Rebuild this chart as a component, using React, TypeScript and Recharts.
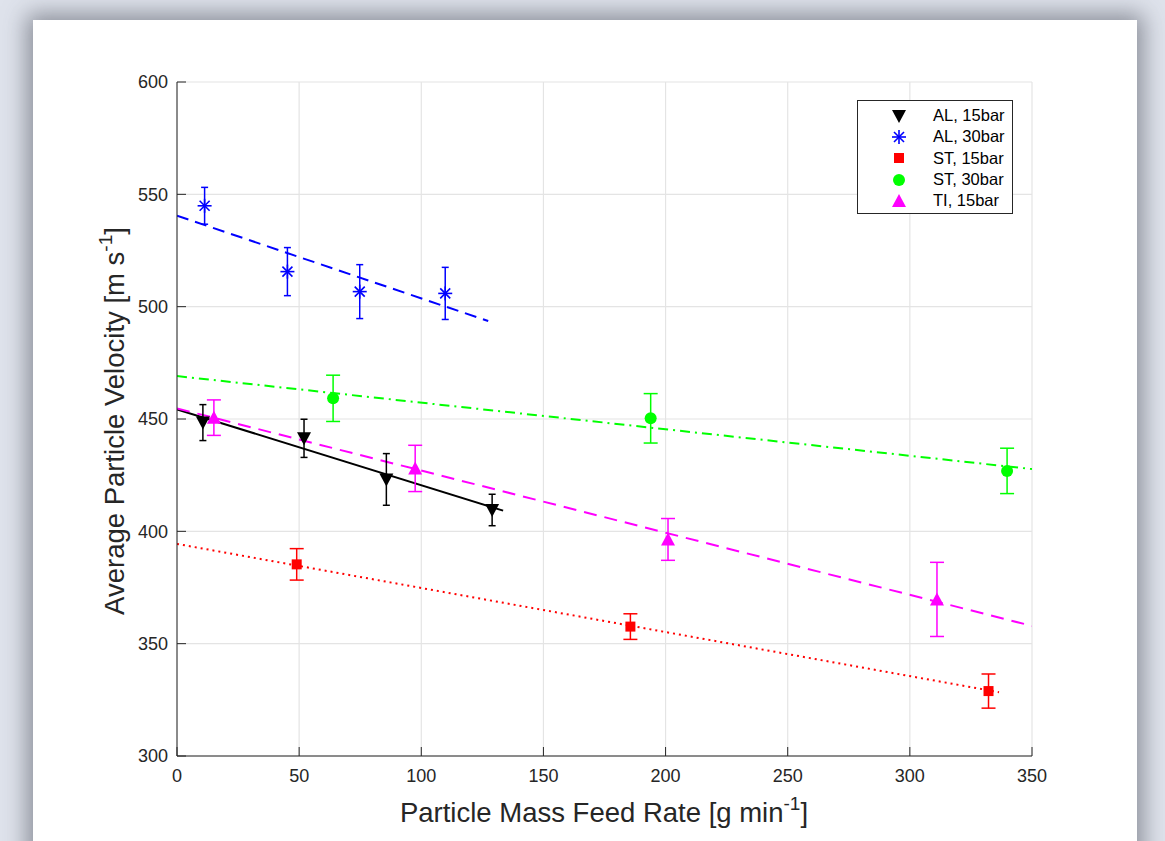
import React from 'react'
import {
  ComposedChart,
  Scatter,
  Line,
  XAxis,
  YAxis,
  CartesianGrid,
  ErrorBar,
  Legend,
} from 'recharts'

// measured points: feed rate [g/min], velocity [m/s], error half-width
const al15 = [
  { x: 10.6, y: 448.4, err: 8 },
  { x: 52, y: 441.4, err: 8.5 },
  { x: 85.7, y: 423.1, err: 11.5 },
  { x: 129, y: 409.5, err: 7 },
]
const al30 = [
  { x: 11.3, y: 544.9, err: 8.2 },
  { x: 45.2, y: 515.6, err: 10.7 },
  { x: 74.8, y: 506.7, err: 12 },
  { x: 109.8, y: 505.9, err: 11.6 },
]
const st15 = [
  { x: 49, y: 385.3, err: 7 },
  { x: 185.6, y: 357.6, err: 5.7 },
  { x: 332.2, y: 328.9, err: 7.6 },
]
const st30 = [
  { x: 63.9, y: 459.2, err: 10.3 },
  { x: 193.9, y: 450.3, err: 11 },
  { x: 339.8, y: 426.9, err: 10.1 },
]
const ti15 = [
  { x: 15.1, y: 450.6, err: 7.9 },
  { x: 97.5, y: 428, err: 10.3 },
  { x: 201, y: 396.4, err: 9.3 },
  { x: 311.1, y: 369.7, err: 16.5 },
]

// linear fits (end points)
const fitAl15 = [{ x: 0, y: 454.3 }, { x: 133.5, y: 409.2 }]
const fitAl30 = [{ x: 0, y: 540.5 }, { x: 127.4, y: 493.6 }]
const fitSt15 = [{ x: 0, y: 394.4 }, { x: 336.5, y: 328.4 }]
const fitSt30 = [{ x: 0, y: 469.1 }, { x: 350, y: 427.7 }]
const fitTi15 = [{ x: 0, y: 454.7 }, { x: 350, y: 357.9 }]

const xTicks = [0, 50, 100, 150, 200, 250, 300, 350]
const yTicks = [300, 350, 400, 450, 500, 550, 600]

const legendNames = ['AL, 15bar', 'AL, 30bar', 'ST, 15bar', 'ST, 30bar', 'TI, 15bar']

const AXIS = '#262626'
const FONT = '"Liberation Sans", Arial, Helvetica, sans-serif'

type MarkProps = { cx?: number; cy?: number }

const TriDown = ({ cx = 0, cy = 0 }: MarkProps) => (
  <polygon points={`${cx - 7},${cy - 6} ${cx + 7},${cy - 6} ${cx},${cy + 7}`} fill="#000" />
)
const TriUp = ({ cx = 0, cy = 0 }: MarkProps) => (
  <polygon points={`${cx - 7},${cy + 6} ${cx + 7},${cy + 6} ${cx},${cy - 7}`} fill="#ff00ff" />
)
const Square = ({ cx = 0, cy = 0 }: MarkProps) => (
  <rect x={cx - 5} y={cy - 5} width={10} height={10} fill="#ff0000" />
)
const Dot = ({ cx = 0, cy = 0 }: MarkProps) => <circle cx={cx} cy={cy} r={6} fill="#00ff00" />
const Star = ({ cx = 0, cy = 0 }: MarkProps) => (
  <g stroke="#0000ff" strokeWidth={1.6}>
    <line x1={cx - 7} y1={cy} x2={cx + 7} y2={cy} />
    <line x1={cx} y1={cy - 7} x2={cx} y2={cy + 7} />
    <line x1={cx - 5} y1={cy - 5} x2={cx + 5} y2={cy + 5} />
    <line x1={cx - 5} y1={cy + 5} x2={cx + 5} y2={cy - 5} />
  </g>
)

const legendMarks = [TriDown, Star, Square, Dot, TriUp]

function LegendBox() {
  return (
    <div
      style={{
        width: 156,
        height: 114,
        border: '1px solid #262626',
        background: '#fff',
        boxSizing: 'border-box',
        paddingTop: 4,
      }}
    >
      {legendNames.map((name, i) => {
        const Mark = legendMarks[i]
        return (
          <div key={name} style={{ display: 'flex', alignItems: 'center', height: 21.3 }}>
            <svg width={70} height={20}>
              <Mark cx={41} cy={10} />
            </svg>
            <span style={{ fontFamily: FONT, fontSize: 16.5, color: '#000', marginLeft: 5 }}>{name}</span>
          </div>
        )
      })}
    </div>
  )
}

const YLabel = () => (
  <text
    x={124}
    y={421}
    transform="rotate(-90 124 421)"
    textAnchor="middle"
    fontFamily={FONT}
    fontSize={27.5}
    fill={AXIS}
  >
    Average Particle Velocity [m s
    <tspan fontSize={19} dy={-12}>-1</tspan>
    <tspan dy={12}>]</tspan>
  </text>
)

const XLabel = () => (
  <text x={604} y={822} textAnchor="middle" fontFamily={FONT} fontSize={27.5} fill={AXIS}>
    Particle Mass Feed Rate [g min
    <tspan fontSize={19} dy={-12}>-1</tspan>
    <tspan dy={12}>]</tspan>
  </text>
)

const emptyTick = () => <g />

export default function App() {
  const tickStyle = { fill: AXIS, fontSize: 18, fontFamily: FONT }
  return (
    <div
      style={{
        position: 'absolute',
        left: 0,
        top: 0,
        width: 1165,
        height: 841,
        background: '#dfe3ec',
        overflow: 'hidden',
      }}
    >
      <div
        style={{
          position: 'absolute',
          left: 33,
          top: 20,
          width: 1104,
          height: 860,
          background: '#fff',
          boxShadow: '0 0 22px 6px rgba(70,72,84,0.55)',
        }}
      />
      <div style={{ position: 'absolute', left: 0, top: 0 }}>
        <ComposedChart width={1165} height={841} margin={{ top: 82, right: 133, bottom: 35, left: 117 }}>
          <CartesianGrid stroke="#e4e4e4" strokeWidth={1.2} />
          <XAxis
            type="number"
            dataKey="x"
            domain={[0, 350]}
            ticks={xTicks}
            height={50}
            tickSize={-9}
            tickMargin={22}
            tick={tickStyle}
            stroke={AXIS}
            allowDataOverflow
            label={{ content: XLabel }}
          />
          <XAxis
            xAxisId="top"
            orientation="top"
            type="number"
            domain={[0, 350]}
            ticks={xTicks}
            height={0}
            tickSize={-9}
            tick={emptyTick}
            stroke={AXIS}
          />
          <YAxis
            type="number"
            domain={[300, 600]}
            ticks={yTicks}
            width={60}
            tickSize={-9}
            tickMargin={18}
            tick={tickStyle}
            stroke={AXIS}
            allowDataOverflow
            label={{ content: YLabel }}
          />
          <YAxis
            yAxisId="right"
            orientation="right"
            type="number"
            domain={[300, 600]}
            ticks={yTicks}
            width={0}
            tickSize={-9}
            tick={emptyTick}
            stroke={AXIS}
          />

          <Line data={fitAl15} dataKey="y" stroke="#000" strokeWidth={2} dot={false} isAnimationActive={false} legendType="none" />
          <Line data={fitAl30} dataKey="y" stroke="#0000ff" strokeWidth={2} strokeDasharray="12 7" dot={false} isAnimationActive={false} legendType="none" />
          <Line data={fitSt15} dataKey="y" stroke="#ff0000" strokeWidth={2} strokeDasharray="2 4" dot={false} isAnimationActive={false} legendType="none" />
          <Line data={fitSt30} dataKey="y" stroke="#00ff00" strokeWidth={2} strokeDasharray="10 5 2 5" dot={false} isAnimationActive={false} legendType="none" />
          <Line data={fitTi15} dataKey="y" stroke="#ff00ff" strokeWidth={2} strokeDasharray="13 8" dot={false} isAnimationActive={false} legendType="none" />

          <Scatter data={al15} dataKey="y" shape={<TriDown />} isAnimationActive={false}>
            <ErrorBar dataKey="err" direction="y" width={3.5} stroke="#000" strokeWidth={1.5} />
          </Scatter>
          <Scatter data={al30} dataKey="y" shape={<Star />} isAnimationActive={false}>
            <ErrorBar dataKey="err" direction="y" width={3.5} stroke="#0000ff" strokeWidth={1.5} />
          </Scatter>
          <Scatter data={st15} dataKey="y" shape={<Square />} isAnimationActive={false}>
            <ErrorBar dataKey="err" direction="y" width={7} stroke="#ff0000" strokeWidth={1.5} />
          </Scatter>
          <Scatter data={st30} dataKey="y" shape={<Dot />} isAnimationActive={false}>
            <ErrorBar dataKey="err" direction="y" width={7} stroke="#00ff00" strokeWidth={1.5} />
          </Scatter>
          <Scatter data={ti15} dataKey="y" shape={<TriUp />} isAnimationActive={false}>
            <ErrorBar dataKey="err" direction="y" width={7} stroke="#ff00ff" strokeWidth={1.5} />
          </Scatter>

          <Legend
            layout="vertical"
            align="center"
            verticalAlign="middle"
            content={LegendBox}
            wrapperStyle={{ left: 857, top: 100, width: 156 }}
          />
        </ComposedChart>
      </div>
    </div>
  )
}
